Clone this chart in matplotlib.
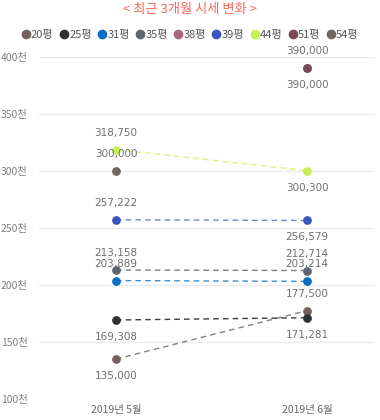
import numpy as np
import matplotlib
matplotlib.use('Agg')
import matplotlib.pyplot as plt
from matplotlib.lines import Line2D

plt.rcParams['font.family'] = ['Noto Sans CJK KR', 'DejaVu Sans']

# data (unit: 천원)
months = ['2019년 5월', '2019년 6월']
sizes = ['20평', '25평', '31평', '35평', '38평', '39평', '44평', '51평', '54평']
values = {
    '20평': [135000, 177500],
    '25평': [169308, 171281],
    '31평': [203889, 203214],
    '35평': [213158, 212714],
    '38평': [None, 390000],
    '39평': [257222, 256579],
    '44평': [318750, 300300],
    '51평': [None, 390000],
    '54평': [300000, None],
}
colors = {
    '20평': '#74605f', '25평': '#2d3133', '31평': '#0a6ec4',
    '35평': '#5e6470', '38평': '#a5697e', '39평': '#3a55c0',
    '44평': '#c8f055', '51평': '#7a4a56', '54평': '#726860',
}
line_colors = {
    '20평': '#8a7f80', '25평': '#3a3d40', '31평': '#3d8fd6',
    '35평': '#7a7f88', '39평': '#6e84d4', '44평': '#d8f27e',
}
# label side per point: 1 above, -1 below
label_side = {
    '20평': [-1, 1], '25평': [-1, -1], '31평': [1, 1], '35평': [1, 1],
    '38평': [0, -1], '39평': [1, -1], '44평': [1, -1], '51평': [0, 1],
    '54평': [1, 0],
}

fig = plt.figure(figsize=(3.8, 4.2), dpi=100)
ax = fig.add_axes([39 / 380, 21 / 420, 336 / 380, 342 / 420])

x = np.arange(len(months))
for s in sizes:
    v = values[s]
    pts = [(xi, yi / 1000) for xi, yi in zip(x, v) if yi is not None]
    if len(pts) == 2:
        lc = line_colors.get(s, colors[s])
        ax.plot([p[0] for p in pts], [p[1] for p in pts], ls=(0, (4, 3)),
                lw=1, color=lc, zorder=2)
    for i, yi in enumerate(v):
        if yi is None:
            continue
        ax.plot(x[i], yi / 1000, 'o', ms=6.3, mew=0, color=colors[s], zorder=3)
        side = label_side[s][i]
        ax.annotate(f'{yi:,}', (x[i], yi / 1000), xytext=(0, 17 * side),
                    textcoords='offset pixels', ha='center', va='center',
                    fontsize=7.5, color='#707070', family='DejaVu Sans')

ax.set_xlim(-0.403, 1.356)
ax.set_ylim(100, 400)
ax.set_yticks(np.arange(100, 401, 50))
ax.set_yticklabels([f'{t}천' for t in range(100, 401, 50)])
ax.set_xticks(x)
ax.set_xticklabels(months)
ax.grid(axis='y', color='#ebebeb', lw=1)
ax.set_axisbelow(True)
for sp in ax.spines.values():
    sp.set_visible(False)
ax.tick_params(length=0, labelsize=7.5, colors='#666666')
ax.tick_params(axis='y', pad=8)
ax.tick_params(axis='x', pad=4)
ax.yaxis.set_tick_params(labelcolor='#808080')

fig.text(0.5, 1 - 10 / 420, '< 최근 3개월 시세 변화 >', ha='center', va='center',
         fontsize=9.5, color='#f26a5f')

handles = [Line2D([], [], marker='o', ls='', ms=7, mew=0, color=colors[s]) for s in sizes]
fig.legend(handles, sizes, loc='center', bbox_to_anchor=(0.5, 1 - 35 / 420),
           ncol=len(sizes), frameon=False, fontsize=8, handletextpad=0.05,
           columnspacing=0.55, handlelength=0.8, labelcolor='#555555')

fig.savefig('out.png', dpi=100, facecolor='white')
